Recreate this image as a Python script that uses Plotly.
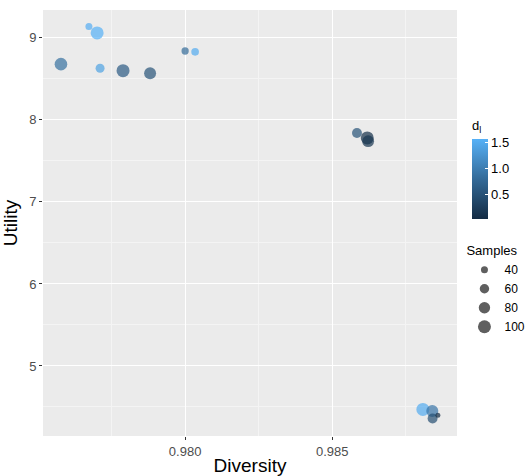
import plotly.graph_objects as go

diversity = [0.97673, 0.97701, 0.97578, 0.97711, 0.97789, 0.97881, 0.98000, 0.98034,
             0.98584, 0.98619, 0.98622, 0.98808, 0.98840, 0.98841, 0.98859]
utility = [9.14, 9.06, 8.68, 8.63, 8.60, 8.57, 8.84, 8.83,
           7.84, 7.78, 7.74, 4.47, 4.45, 4.36, 4.40]
d_l = [1.52, 1.56, 0.85, 1.40, 0.60, 0.50, 0.80, 1.50,
       0.50, 0.08, 0.15, 1.50, 0.90, 0.45, 0.02]
samples = [40, 100, 95, 56, 100, 87, 42, 45,
           65, 100, 85, 100, 88, 65, 28]
legend_samples = [40, 60, 80, 100]
x_ticks = [0.980, 0.985]
y_ticks = [5, 6, 7, 8, 9]


def diam(s):
    return max(3.0, (2.0 * s - 31.0)) ** 0.5


colorscale = [[0, "#132B43"], [0.5, "#336A98"], [1, "#56B1F7"]]

fig = go.Figure()
fig.add_trace(go.Scatter(
    x=diversity, y=utility, mode="markers", showlegend=False,
    marker=dict(size=[diam(s) for s in samples], color=d_l, colorscale=colorscale,
                cmin=min(d_l), cmax=max(d_l), opacity=0.7, line=dict(width=0),
                colorbar=dict(title=dict(text="d<sub>l</sub>", side="top",
                                         font=dict(size=13, color="#000000")),
                              x=1.036, xanchor="left", y=0.628, yanchor="middle",
                              lenmode="pixels", len=102, thickness=16,
                              tickvals=[0.5, 1.0, 1.5], ticktext=["0.5", "1.0", "1.5"],
                              ticks="inside", ticklen=3, tickcolor="white",
                              tickfont=dict(size=13, color="#000000"),
                              outlinewidth=0, xpad=0, ypad=0)),
))
for s in legend_samples:
    fig.add_trace(go.Scatter(
        x=[None], y=[None], mode="markers", name=str(s),
        marker=dict(size=diam(s), color="#5F5F5F", opacity=1, line=dict(width=0)),
        showlegend=True,
    ))

fig.update_layout(
    width=529, height=476,
    margin=dict(l=43, r=72, t=10, b=40, autoexpand=False),
    paper_bgcolor="white", plot_bgcolor="#EBEBEB",
    font=dict(family="Liberation Sans, Arial, sans-serif", size=12, color="#4D4D4D"),
    legend=dict(title=dict(text="Samples", font=dict(size=13, color="#000000")),
                x=1.018, xanchor="left", y=0.464, yanchor="top",
                font=dict(size=12, color="#000000"), itemsizing="trace",
                bgcolor="rgba(0,0,0,0)", tracegroupgap=0, itemwidth=30),
    xaxis=dict(range=[0.97517, 0.98924], tickvals=x_ticks, ticktext=["0.980", "0.985"],
               automargin=False,
               showgrid=True, gridcolor="white", gridwidth=1.2, zeroline=False,
               ticks="outside", ticklen=3, tickcolor="#333333",
               tickfont=dict(size=13, color="#4D4D4D"),
               minor=dict(tickvals=[0.9775, 0.9825, 0.9875], showgrid=True,
                          gridcolor="#F4F4F4", gridwidth=0.6),
               title=dict(text="Diversity", font=dict(size=19, color="#000000"), standoff=2)),
    yaxis=dict(range=[4.146, 9.34], tickvals=y_ticks, automargin=False,
               showgrid=True, gridcolor="white", gridwidth=1.2, zeroline=False,
               ticks="outside", ticklen=3, tickcolor="#333333",
               tickfont=dict(size=13, color="#4D4D4D"),
               minor=dict(tickvals=[4.5, 5.5, 6.5, 7.5, 8.5], showgrid=True,
                          gridcolor="#F4F4F4", gridwidth=0.6),
               title=dict(text="Utility", font=dict(size=19, color="#000000"), standoff=8)),
)

fig.write_html("out.html", config={"displayModeBar": False},
               post_script="document.body.style.margin='0';document.body.style.padding='0';")
